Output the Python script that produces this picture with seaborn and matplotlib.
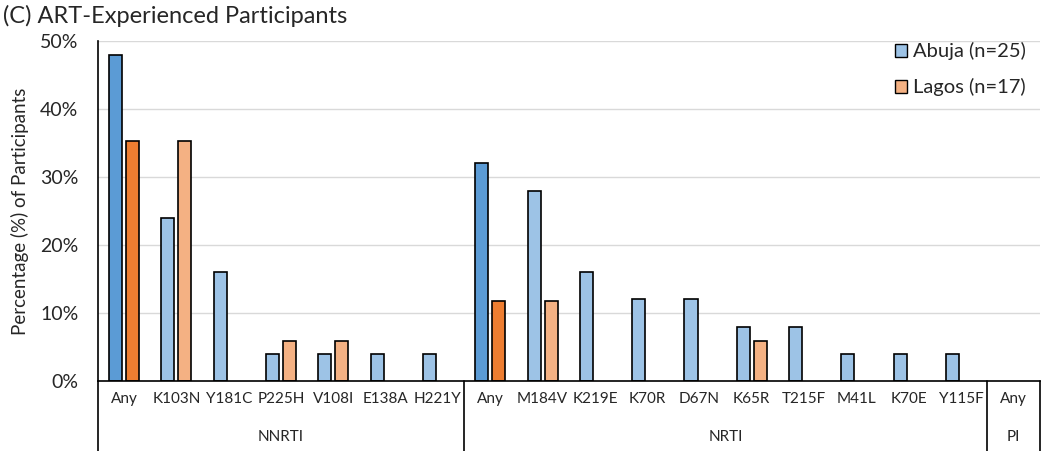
import matplotlib
matplotlib.use('Agg')
import matplotlib.pyplot as plt
import matplotlib.transforms as mtransforms
from matplotlib.patches import Patch
from matplotlib.ticker import PercentFormatter
import seaborn as sns
import pandas as pd

# mutation labels, grouped by drug class
mutations = ['Any', 'K103N', 'Y181C', 'P225H', 'V108I', 'E138A', 'H221Y',
             'Any', 'M184V', 'K219E', 'K70R', 'D67N', 'K65R', 'T215F', 'M41L', 'K70E', 'Y115F',
             'Any']
drug_class = ['NNRTI'] * 7 + ['NRTI'] * 10 + ['PI']
abuja = [48, 24, 16, 4, 4, 4, 4,
         32, 28, 16, 12, 12, 8, 8, 4, 4, 4,
         0]
lagos = [35.3, 35.3, 0, 5.9, 5.9, 0, 0,
         11.8, 11.8, 0, 0, 0, 5.9, 0, 0, 0, 0,
         0]
sites = ['Abuja (n=25)', 'Lagos (n=17)']

n = len(mutations)
df = pd.DataFrame({
    'pos': list(range(n)) * 2,
    'site': [sites[0]] * n + [sites[1]] * n,
    'pct': abuja + lagos,
})

light = {sites[0]: '#9DC3E6', sites[1]: '#F4B183'}
dark = {sites[0]: '#5B9BD5', sites[1]: '#ED7D31'}

sns.set_style('white')
plt.rcParams['font.family'] = ['Lato', 'DejaVu Sans']

fig = plt.figure(figsize=(10.5, 4.51), dpi=100)
ax = fig.add_axes([0.0933, 0.155, 0.8967, 0.754])

sns.barplot(data=df, x='pos', y='pct', hue='site', hue_order=sites,
            palette=light, saturation=1, width=0.65, gap=0.23, edgecolor='black',
            linewidth=1.2, legend=False, ax=ax)

# colour the "Any" bars darker, hide zero bars
for i, cont in enumerate(ax.containers):
    site = sites[i]
    for j, bar in enumerate(cont):
        if bar.get_height() == 0:
            bar.set_visible(False)
        elif mutations[j] == 'Any':
            bar.set_facecolor(dark[site])

ax.set_ylim(0, 50)
ax.set_xlim(-0.5, n - 0.5)
ax.yaxis.set_major_formatter(PercentFormatter(decimals=0))
ax.set_yticks(range(0, 51, 10))
ax.yaxis.grid(True, color='#D9D9D9', linewidth=1)
ax.set_axisbelow(True)
ax.tick_params(axis='y', labelsize=14, length=0, pad=14)
ax.set_xticks(range(n))
ax.set_xticklabels(mutations, fontsize=11)
ax.tick_params(axis='x', length=0, pad=8)
ax.set_xlabel('')
ax.set_ylabel('Percentage (%) of Participants', fontsize=13.5, labelpad=8)

for s in ['top', 'right']:
    ax.spines[s].set_visible(False)
for s in ['left', 'bottom']:
    ax.spines[s].set_color('black')
    ax.spines[s].set_linewidth(1.2)

# group separators and labels below the axis
trans = mtransforms.blended_transform_factory(ax.transData, ax.transAxes)
for x in [-0.5, 6.5, 16.5, 17.5]:
    ax.plot([x, x], [0, -0.21], color='black', lw=1.2, transform=trans, clip_on=False)
groups = [('NNRTI', 0, 6), ('NRTI', 7, 16), ('PI', 17, 17)]
for name, a, b in groups:
    ax.text((a + b) / 2, -0.165, name, transform=trans, ha='center', va='center', fontsize=11)

handles = [Patch(facecolor=light[s], edgecolor='black', label=s) for s in sites]
ax.legend(handles=handles, loc='upper right', bbox_to_anchor=(1.005, 1.05), frameon=False,
          fontsize=14.5, handlelength=0.6, handleheight=0.6, handletextpad=0.3, labelspacing=0.9)

fig.text(0.003, 0.99, '(C) ART-Experienced Participants', fontsize=17, va='top', ha='left')

fig.savefig('out.png', dpi=100)
plt.close(fig)
